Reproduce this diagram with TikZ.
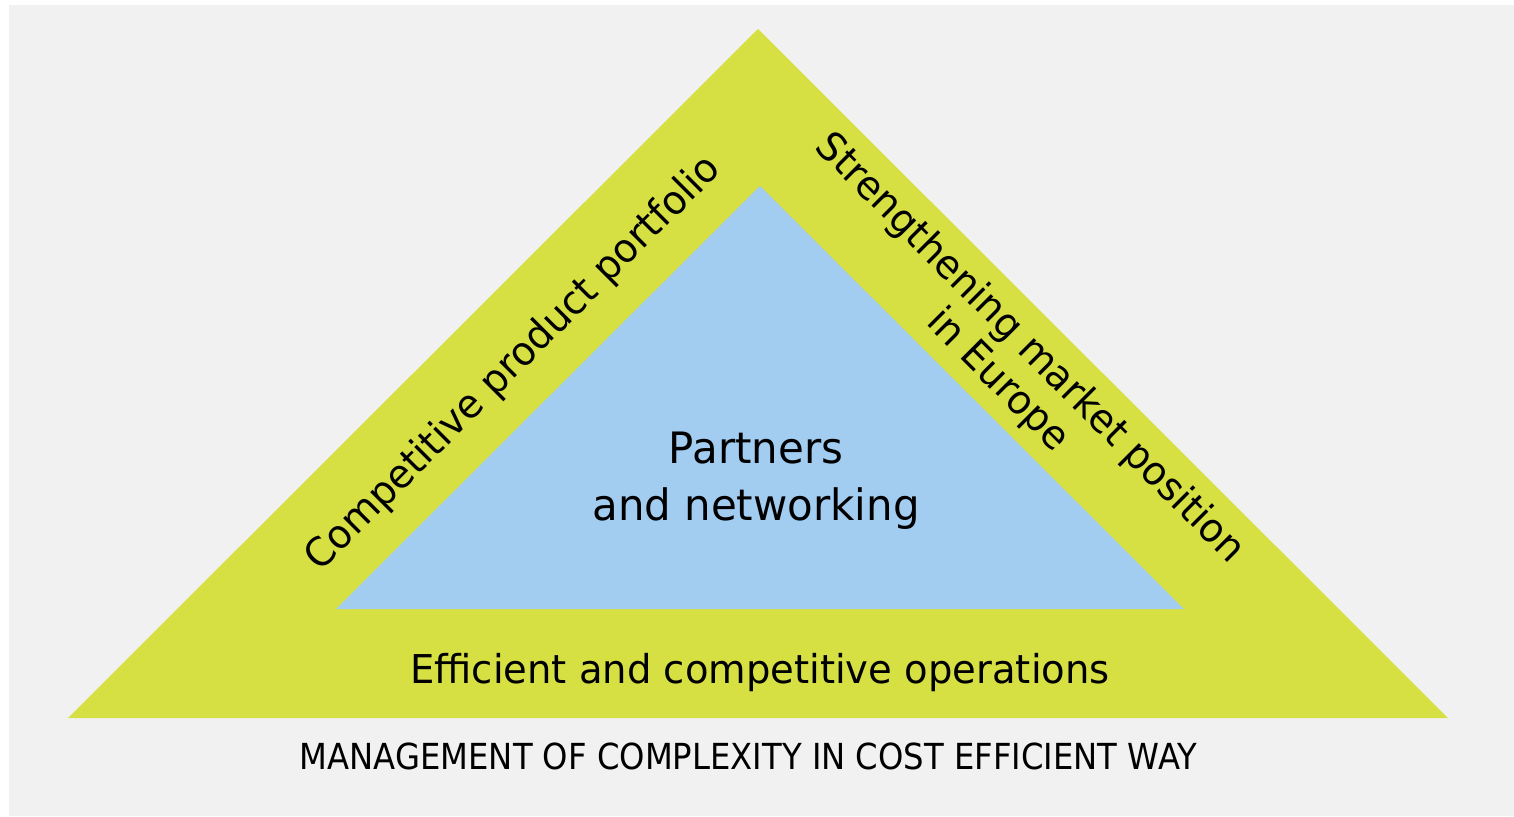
\documentclass[tikz,border=0pt]{standalone}
\usepackage{fontspec}
\setmainfont{DejaVu Sans}[FakeStretch=0.97]
\newfontfamily\capsfont{DejaVu Sans}[FakeStretch=0.9]
\definecolor{bandgreen}{HTML}{D6E042}
\definecolor{coreblue}{HTML}{A2CCF0}
\definecolor{panelgray}{HTML}{F1F1F1}
\begin{document}
\begin{tikzpicture}[
    bandtext/.style={font=\fontsize{11.3}{12.8}\selectfont, align=center, inner sep=0pt},
    coretext/.style={font=\fontsize{12.3}{16.2}\selectfont, align=center, inner sep=0pt},
    basetext/.style={font=\capsfont\fontsize{10.2}{12}\selectfont, inner sep=0pt}]
    % Page and grey panel
    \useasboundingbox (0, 0) rectangle (15.14, 8.16);
    \fill[panelgray] (0.09, 0) rectangle (15.14, 8.11);

    % Outer triangle
    \fill[bandgreen] (0.68, 0.98) -- (7.58, 7.87) -- (14.48, 0.98) -- cycle;
    % Inner triangle
    \fill[coreblue] (3.36, 2.07) -- (7.60, 6.30) -- (11.84, 2.07) -- cycle;

    % Labels
    \node[coretext] (core) at (7.56, 3.35) {Partners\\and networking};
    \node[bandtext, rotate=45] (portfolio) at (5.14, 4.52) {Competitive product portfolio};
    \node[bandtext, rotate=-45] (market) at (10.135, 4.515) {Strengthening market position\\in Europe};
    \node[bandtext, anchor=base] (operations) at (7.60, 1.33) {Efficient and competitive operations};
    \node[basetext, anchor=base] (complexity) at (7.485, 0.47) {MANAGEMENT OF COMPLEXITY IN COST EFFICIENT WAY};
\end{tikzpicture}
\end{document}
